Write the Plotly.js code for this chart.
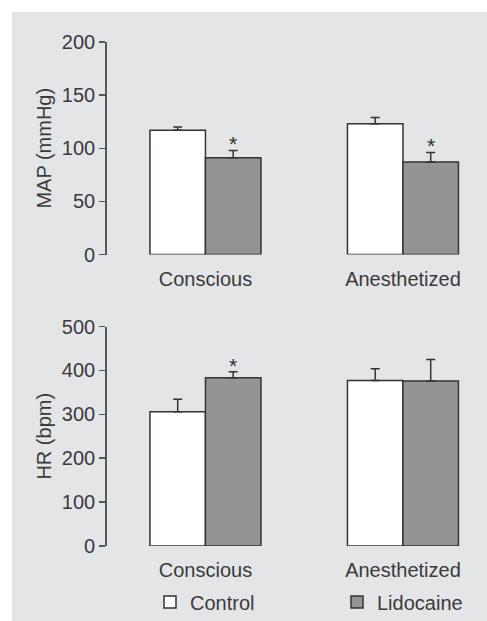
<!DOCTYPE html>
<html>
<head>
<meta charset="utf-8">
<script src="https://cdn.plot.ly/plotly-3.0.1.min.js"></script>
<style>html,body{margin:0;padding:0;background:#fff;}#chart{width:487px;height:621px;}</style>
</head>
<body>
<div id="chart"></div>
<script>
// ---- data ----
const groups = ['Conscious', 'Anesthetized'];
const seriesNames = ['Control', 'Lidocaine'];
const mapControl = [117, 123];
const mapControlErr = [3, 6];
const mapLido = [91, 87];
const mapLidoErr = [7, 9];
const hrControl = [306, 377];
const hrControlErr = [28, 27];
const hrLido = [383, 376];
const hrLidoErr = [14, 49];
const mapLidoSig = [true, true];
const hrLidoSig = [true, false];
const mapTicks = [0, 50, 100, 150, 200];
const hrTicks = [0, 100, 200, 300, 400, 500];

// ---- style ----
const W = 487, H = 621;
const FONT = 'Liberation Sans, Arial, sans-serif';
const FS = 20;
const TXT = '#3a3a3a';
const AX = '#555555';
const EDGE = '#333333';
const FILLS = ['#ffffff', '#939495'];
const BARGAP = 0.438;

function barTrace(name, vals, errs, fill, xa, ya, showLeg) {
  return {
    type: 'bar', name: name, x: groups, y: vals,
    xaxis: xa, yaxis: ya, showlegend: showLeg, legendgroup: name,
    marker: {color: fill, line: {color: EDGE, width: 1.5}},
    error_y: {type: 'data', array: errs, arrayminus: errs.map(() => 0), symmetric: false,
              color: EDGE, thickness: 1.5, width: 4.5},
    hoverinfo: 'skip'
  };
}

const data = [
  barTrace(seriesNames[0], mapControl, mapControlErr, FILLS[0], 'x', 'y', true),
  barTrace(seriesNames[1], mapLido, mapLidoErr, FILLS[1], 'x', 'y', true),
  barTrace(seriesNames[0], hrControl, hrControlErr, FILLS[0], 'x2', 'y2', false),
  barTrace(seriesNames[1], hrLido, hrLidoErr, FILLS[1], 'x2', 'y2', false)
];

const barOffset = (1 - BARGAP) / 4;
const annotations = [];
function addStars(sig, vals, errs, xref, yref) {
  sig.forEach((s, i) => {
    if (!s) return;
    annotations.push({
      x: i + barOffset, y: vals[i] + errs[i], xref: xref, yref: yref,
      text: '*', showarrow: false, yanchor: 'bottom', yshift: -7,
      font: {family: FONT, size: 21, color: '#2e2e2e'}
    });
  });
}
addStars(mapLidoSig, mapLido, mapLidoErr, 'x', 'y');
addStars(hrLidoSig, hrLido, hrLidoErr, 'x2', 'y2');

const xDomain = [106.7 / W, 1];
const xRange = [-0.5, -0.5 + (W - 106.7) / 197.5];
function xAxis(anchor) {
  return {
    domain: xDomain, range: xRange, type: 'category', anchor: anchor,
    showline: false, showgrid: false, zeroline: false, ticks: '',
    tickfont: {family: FONT, size: FS, color: TXT}, ticklabelstandoff: 10,
    fixedrange: true
  };
}
function yAxis(dom, range, ticks, title, anchor) {
  return {
    domain: dom, range: range, anchor: anchor, tickvals: ticks,
    showline: true, linecolor: AX, linewidth: 1.5,
    ticks: 'outside', ticklen: 6, tickwidth: 1.5, tickcolor: AX,
    showgrid: false, zeroline: false,
    tickfont: {family: FONT, size: FS, color: TXT}, ticklabelstandoff: 0,
    title: {text: title, font: {family: FONT, size: FS, color: TXT}, standoff: 5},
    fixedrange: true
  };
}

const layout = {
  width: W, height: H,
  margin: {l: 0, r: 0, t: 0, b: 0, autoexpand: false},
  paper_bgcolor: '#ffffff', plot_bgcolor: 'rgba(0,0,0,0)',
  barmode: 'group', bargap: BARGAP, bargroupgap: 0,
  xaxis: xAxis('y'),
  yaxis: yAxis([(H - 254.5) / H, (H - 42) / H], [0, 200], mapTicks, 'MAP (mmHg)', 'x'),
  xaxis2: xAxis('y2'),
  yaxis2: yAxis([(H - 546) / H, (H - 326.5) / H], [0, 500], hrTicks, 'HR (bpm)', 'x2'),
  showlegend: true,
  legend: {
    orientation: 'h', xref: 'container', yref: 'container',
    x: 150 / W, xanchor: 'left', y: (H - 602) / H, yanchor: 'middle',
    bgcolor: 'rgba(0,0,0,0)', font: {family: FONT, size: FS, color: TXT},
    entrywidth: 142, entrywidthmode: 'pixels', traceorder: 'normal'
  },
  shapes: [{
    type: 'rect', xref: 'paper', yref: 'paper', layer: 'below',
    x0: 12 / W, x1: 1, y0: 0, y1: (H - 12) / H,
    fillcolor: '#e4e5e7', line: {width: 0}
  }],
  annotations: annotations
};

Plotly.newPlot('chart', data, layout, {displayModeBar: false, staticPlot: true});
</script>
</body>
</html>
